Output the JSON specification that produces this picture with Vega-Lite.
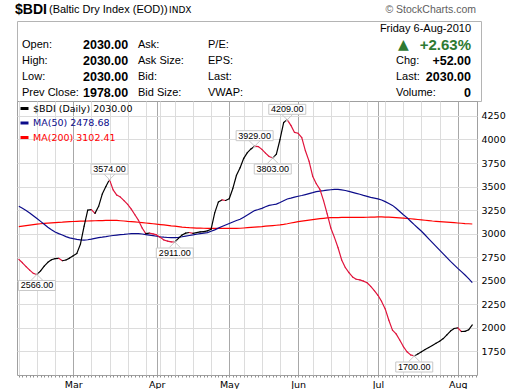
{
"$schema": "https://vega.github.io/schema/vega-lite/v6.json",
"background": "white",
"padding": {"left": 14, "top": 2, "right": 4, "bottom": 0},
"bounds": "flush",
"spacing": 0,
"resolve": {"legend": {"color": "independent"}, "scale": {"x": "independent", "y": "independent", "color": "independent"}},
"config": {"font": "Liberation Sans", "view": {"stroke": "#a0a0a0"}},
"datasets": {
"bdi": [
{"i":0,"date":"2010-02-08","close":2727,"ma50":3290,"ma200":3075},
{"i":1,"date":"2010-02-09","close":2690,"ma50":3270,"ma200":3080},
{"i":2,"date":"2010-02-10","close":2650,"ma50":3245,"ma200":3085},
{"i":3,"date":"2010-02-11","close":2612,"ma50":3220,"ma200":3090},
{"i":4,"date":"2010-02-12","close":2578,"ma50":3190,"ma200":3095},
{"i":5,"date":"2010-02-15","close":2566,"ma50":3160,"ma200":3100},
{"i":6,"date":"2010-02-16","close":2605,"ma50":3130,"ma200":3105},
{"i":7,"date":"2010-02-17","close":2655,"ma50":3100,"ma200":3108},
{"i":8,"date":"2010-02-18","close":2695,"ma50":3068,"ma200":3111},
{"i":9,"date":"2010-02-19","close":2722,"ma50":3042,"ma200":3114},
{"i":10,"date":"2010-02-22","close":2735,"ma50":3018,"ma200":3117},
{"i":11,"date":"2010-02-23","close":2738,"ma50":3000,"ma200":3120},
{"i":12,"date":"2010-02-24","close":2712,"ma50":2985,"ma200":3122},
{"i":13,"date":"2010-02-25","close":2720,"ma50":2968,"ma200":3125},
{"i":14,"date":"2010-02-26","close":2740,"ma50":2955,"ma200":3127},
{"i":15,"date":"2010-03-01","close":2765,"ma50":2946,"ma200":3129},
{"i":16,"date":"2010-03-02","close":2790,"ma50":2938,"ma200":3131},
{"i":17,"date":"2010-03-03","close":2890,"ma50":2934,"ma200":3132},
{"i":18,"date":"2010-03-04","close":3080,"ma50":2932,"ma200":3133},
{"i":19,"date":"2010-03-05","close":3250,"ma50":2935,"ma200":3134},
{"i":20,"date":"2010-03-08","close":3255,"ma50":2942,"ma200":3136},
{"i":21,"date":"2010-03-09","close":3215,"ma50":2950,"ma200":3137},
{"i":22,"date":"2010-03-10","close":3290,"ma50":2957,"ma200":3138},
{"i":23,"date":"2010-03-11","close":3420,"ma50":2962,"ma200":3139},
{"i":24,"date":"2010-03-12","close":3500,"ma50":2968,"ma200":3140},
{"i":25,"date":"2010-03-15","close":3574,"ma50":2975,"ma200":3141},
{"i":26,"date":"2010-03-16","close":3465,"ma50":2980,"ma200":3141},
{"i":27,"date":"2010-03-17","close":3410,"ma50":2985,"ma200":3140},
{"i":28,"date":"2010-03-18","close":3388,"ma50":2989,"ma200":3137},
{"i":29,"date":"2010-03-19","close":3350,"ma50":2992,"ma200":3134},
{"i":30,"date":"2010-03-22","close":3310,"ma50":2996,"ma200":3130},
{"i":31,"date":"2010-03-23","close":3260,"ma50":2999,"ma200":3127},
{"i":32,"date":"2010-03-24","close":3200,"ma50":3001,"ma200":3124},
{"i":33,"date":"2010-03-25","close":3140,"ma50":3000,"ma200":3121},
{"i":34,"date":"2010-03-26","close":3060,"ma50":2996,"ma200":3117},
{"i":35,"date":"2010-03-29","close":3000,"ma50":2990,"ma200":3113},
{"i":36,"date":"2010-03-30","close":3005,"ma50":2984,"ma200":3109},
{"i":37,"date":"2010-03-31","close":2998,"ma50":2978,"ma200":3105},
{"i":38,"date":"2010-04-01","close":2986,"ma50":2972,"ma200":3100},
{"i":39,"date":"2010-04-06","close":2960,"ma50":2966,"ma200":3096},
{"i":40,"date":"2010-04-07","close":2932,"ma50":2962,"ma200":3092},
{"i":41,"date":"2010-04-08","close":2920,"ma50":2959,"ma200":3088},
{"i":42,"date":"2010-04-09","close":2913,"ma50":2957,"ma200":3083},
{"i":43,"date":"2010-04-12","close":2911,"ma50":2957,"ma200":3079},
{"i":44,"date":"2010-04-13","close":2950,"ma50":2961,"ma200":3075},
{"i":45,"date":"2010-04-14","close":2985,"ma50":2967,"ma200":3070},
{"i":46,"date":"2010-04-15","close":3005,"ma50":2974,"ma200":3066},
{"i":47,"date":"2010-04-16","close":3012,"ma50":2980,"ma200":3063},
{"i":48,"date":"2010-04-19","close":3002,"ma50":2986,"ma200":3061},
{"i":49,"date":"2010-04-20","close":3010,"ma50":2993,"ma200":3059},
{"i":50,"date":"2010-04-21","close":3018,"ma50":2999,"ma200":3058},
{"i":51,"date":"2010-04-22","close":3022,"ma50":3005,"ma200":3057},
{"i":52,"date":"2010-04-23","close":3030,"ma50":3011,"ma200":3056},
{"i":53,"date":"2010-04-26","close":3045,"ma50":3025,"ma200":3056},
{"i":54,"date":"2010-04-27","close":3220,"ma50":3040,"ma200":3056},
{"i":55,"date":"2010-04-28","close":3335,"ma50":3058,"ma200":3055},
{"i":56,"date":"2010-04-29","close":3358,"ma50":3075,"ma200":3055},
{"i":57,"date":"2010-04-30","close":3352,"ma50":3092,"ma200":3055},
{"i":58,"date":"2010-05-04","close":3370,"ma50":3108,"ma200":3056},
{"i":59,"date":"2010-05-05","close":3480,"ma50":3124,"ma200":3056},
{"i":60,"date":"2010-05-06","close":3620,"ma50":3140,"ma200":3056},
{"i":61,"date":"2010-05-07","close":3700,"ma50":3152,"ma200":3057},
{"i":62,"date":"2010-05-10","close":3800,"ma50":3175,"ma200":3060},
{"i":63,"date":"2010-05-11","close":3860,"ma50":3198,"ma200":3063},
{"i":64,"date":"2010-05-12","close":3900,"ma50":3222,"ma200":3066},
{"i":65,"date":"2010-05-13","close":3929,"ma50":3245,"ma200":3069},
{"i":66,"date":"2010-05-14","close":3925,"ma50":3256,"ma200":3072},
{"i":67,"date":"2010-05-17","close":3895,"ma50":3268,"ma200":3075},
{"i":68,"date":"2010-05-18","close":3855,"ma50":3285,"ma200":3079},
{"i":69,"date":"2010-05-19","close":3820,"ma50":3300,"ma200":3083},
{"i":70,"date":"2010-05-20","close":3803,"ma50":3307,"ma200":3086},
{"i":71,"date":"2010-05-21","close":3845,"ma50":3313,"ma200":3089},
{"i":72,"date":"2010-05-24","close":4000,"ma50":3330,"ma200":3092},
{"i":73,"date":"2010-05-25","close":4180,"ma50":3350,"ma200":3098},
{"i":74,"date":"2010-05-26","close":4209,"ma50":3368,"ma200":3105},
{"i":75,"date":"2010-05-27","close":4150,"ma50":3377,"ma200":3113},
{"i":76,"date":"2010-05-28","close":4075,"ma50":3387,"ma200":3120},
{"i":77,"date":"2010-06-01","close":4066,"ma50":3397,"ma200":3127},
{"i":78,"date":"2010-06-02","close":4020,"ma50":3405,"ma200":3133},
{"i":79,"date":"2010-06-03","close":3880,"ma50":3415,"ma200":3139},
{"i":80,"date":"2010-06-04","close":3770,"ma50":3425,"ma200":3144},
{"i":81,"date":"2010-06-07","close":3610,"ma50":3435,"ma200":3149},
{"i":82,"date":"2010-06-08","close":3530,"ma50":3446,"ma200":3154},
{"i":83,"date":"2010-06-09","close":3470,"ma50":3451,"ma200":3159},
{"i":84,"date":"2010-06-10","close":3350,"ma50":3456,"ma200":3163},
{"i":85,"date":"2010-06-11","close":3210,"ma50":3462,"ma200":3167},
{"i":86,"date":"2010-06-14","close":3060,"ma50":3466,"ma200":3169},
{"i":87,"date":"2010-06-15","close":2960,"ma50":3470,"ma200":3170},
{"i":88,"date":"2010-06-16","close":2850,"ma50":3471,"ma200":3171},
{"i":89,"date":"2010-06-17","close":2720,"ma50":3465,"ma200":3172},
{"i":90,"date":"2010-06-18","close":2640,"ma50":3458,"ma200":3172},
{"i":91,"date":"2010-06-21","close":2585,"ma50":3448,"ma200":3173},
{"i":92,"date":"2010-06-22","close":2540,"ma50":3438,"ma200":3173},
{"i":93,"date":"2010-06-23","close":2515,"ma50":3428,"ma200":3173},
{"i":94,"date":"2010-06-24","close":2508,"ma50":3418,"ma200":3173},
{"i":95,"date":"2010-06-25","close":2495,"ma50":3406,"ma200":3173},
{"i":96,"date":"2010-06-28","close":2478,"ma50":3396,"ma200":3174},
{"i":97,"date":"2010-06-29","close":2440,"ma50":3386,"ma200":3175},
{"i":98,"date":"2010-06-30","close":2395,"ma50":3378,"ma200":3176},
{"i":99,"date":"2010-07-01","close":2345,"ma50":3369,"ma200":3177},
{"i":100,"date":"2010-07-02","close":2280,"ma50":3357,"ma200":3177},
{"i":101,"date":"2010-07-05","close":2200,"ma50":3340,"ma200":3176},
{"i":102,"date":"2010-07-06","close":2080,"ma50":3320,"ma200":3175},
{"i":103,"date":"2010-07-07","close":1975,"ma50":3300,"ma200":3173},
{"i":104,"date":"2010-07-08","close":1935,"ma50":3270,"ma200":3171},
{"i":105,"date":"2010-07-09","close":1870,"ma50":3235,"ma200":3168},
{"i":106,"date":"2010-07-12","close":1800,"ma50":3200,"ma200":3165},
{"i":107,"date":"2010-07-13","close":1745,"ma50":3170,"ma200":3162},
{"i":108,"date":"2010-07-14","close":1712,"ma50":3132,"ma200":3158},
{"i":109,"date":"2010-07-15","close":1700,"ma50":3095,"ma200":3154},
{"i":110,"date":"2010-07-16","close":1722,"ma50":3060,"ma200":3150},
{"i":111,"date":"2010-07-19","close":1745,"ma50":3025,"ma200":3146},
{"i":112,"date":"2010-07-20","close":1768,"ma50":2985,"ma200":3142},
{"i":113,"date":"2010-07-21","close":1790,"ma50":2945,"ma200":3138},
{"i":114,"date":"2010-07-22","close":1812,"ma50":2905,"ma200":3134},
{"i":115,"date":"2010-07-23","close":1835,"ma50":2865,"ma200":3131},
{"i":116,"date":"2010-07-26","close":1856,"ma50":2825,"ma200":3128},
{"i":117,"date":"2010-07-27","close":1885,"ma50":2785,"ma200":3125},
{"i":118,"date":"2010-07-28","close":1925,"ma50":2745,"ma200":3122},
{"i":119,"date":"2010-07-29","close":1965,"ma50":2705,"ma200":3119},
{"i":120,"date":"2010-07-30","close":1992,"ma50":2668,"ma200":3116},
{"i":121,"date":"2010-08-02","close":1998,"ma50":2631,"ma200":3113},
{"i":122,"date":"2010-08-03","close":1960,"ma50":2596,"ma200":3110},
{"i":123,"date":"2010-08-04","close":1962,"ma50":2560,"ma200":3107},
{"i":124,"date":"2010-08-05","close":1978,"ma50":2522,"ma200":3105},
{"i":125,"date":"2010-08-06","close":2030,"ma50":2478.68,"ma200":3102.41}
],
"hdr_lab": [
{"t":"Open:","row":1,"col":0},{"t":"High:","row":2,"col":0},{"t":"Low:","row":3,"col":0},{"t":"Prev Close:","row":4,"col":0},
{"t":"Ask:","row":1,"col":2},{"t":"Ask Size:","row":2,"col":2},{"t":"Bid:","row":3,"col":2},{"t":"Bid Size:","row":4,"col":2},
{"t":"P/E:","row":1,"col":3},{"t":"EPS:","row":2,"col":3},{"t":"Last:","row":3,"col":3},{"t":"VWAP:","row":4,"col":3},
{"t":"Chg:","row":2,"col":4},{"t":"Last:","row":3,"col":4},{"t":"Volume:","row":4,"col":4}
],
"hdr_val": [
{"t":"2030.00","row":1,"col":1},{"t":"2030.00","row":2,"col":1},{"t":"2030.00","row":3,"col":1},{"t":"1978.00","row":4,"col":1}
],
"hdr_rval": [
{"t":"+52.00","row":2,"col":5},{"t":"2030.00","row":3,"col":5},{"t":"0","row":4,"col":5}
],
"hdr_date": [{"t":"Friday  6-Aug-2010","row":0,"col":5}],
"hdr_pct": [{"t":"+2.63%","row":1,"col":5}],
"hdr_tri": [{"t":"▲","row":1,"col":4}],
"hdr_sym": [{"t":"$BDI","row":-1.19,"col":-1}],
"hdr_name": [{"t":"(Baltic Dry Index (EOD))","row":-1.19,"col":-1}],
"hdr_exch": [{"t":"INDX","row":-1.19,"col":-1}],
"hdr_copy": [{"t":"© StockCharts.com","row":-1.19,"col":6}]
},
"vconcat": [
{
"width": 464,
"height": 80,
"view": {"stroke": "#b4b4b4"},
"encoding": {
"x": {"field": "col", "type": "quantitative", "axis": null, "scale": {"type": "linear", "domain": [-1,0,1,2,3,4,5,6], "range": [-2,5,66,121,191,379,454,459], "zero": false, "nice": false}},
"y": {"field": "row", "type": "quantitative", "axis": null, "scale": {"domain": [-0.5, 4.5], "reverse": true, "zero": false, "nice": false}}
},
"layer": [
{"data": {"name": "hdr_lab"}, "mark": {"type": "text", "align": "left", "baseline": "middle", "fontSize": 11, "color": "#000000"}, "encoding": {"text": {"field": "t"}}},
{"data": {"name": "hdr_val"}, "mark": {"type": "text", "align": "left", "baseline": "middle", "fontSize": 12.5, "fontWeight": "bold", "color": "#000000"}, "encoding": {"text": {"field": "t"}}},
{"data": {"name": "hdr_rval"}, "mark": {"type": "text", "align": "right", "baseline": "middle", "fontSize": 12.5, "fontWeight": "bold", "color": "#000000"}, "encoding": {"text": {"field": "t"}}},
{"data": {"name": "hdr_date"}, "mark": {"type": "text", "align": "right", "baseline": "middle", "fontSize": 11, "color": "#000000"}, "encoding": {"text": {"field": "t"}}},
{"data": {"name": "hdr_pct"}, "mark": {"type": "text", "align": "right", "baseline": "middle", "fontSize": 15, "fontWeight": "bold", "color": "#2e7a32"}, "encoding": {"text": {"field": "t"}}},
{"data": {"name": "hdr_tri"}, "mark": {"type": "text", "align": "left", "baseline": "middle", "font": "DejaVu Sans", "fontSize": 14, "dx": 2, "color": "#2e7a32"}, "encoding": {"text": {"field": "t"}}},
{"data": {"name": "hdr_sym"}, "mark": {"type": "text", "align": "left", "baseline": "middle", "fontSize": 14, "fontWeight": "bold", "color": "#000000"}, "encoding": {"text": {"field": "t"}}},
{"data": {"name": "hdr_name"}, "mark": {"type": "text", "align": "left", "baseline": "middle", "fontSize": 11, "dx": 34, "color": "#000000"}, "encoding": {"text": {"field": "t"}}},
{"data": {"name": "hdr_exch"}, "mark": {"type": "text", "align": "left", "baseline": "middle", "font": "DejaVu Sans", "fontSize": 9, "dx": 154, "color": "#000000"}, "encoding": {"text": {"field": "t"}}},
{"data": {"name": "hdr_copy"}, "mark": {"type": "text", "align": "right", "baseline": "middle", "fontSize": 10.5, "color": "#606060"}, "encoding": {"text": {"field": "t"}}}
]
},
{
"width": 460,
"height": 274,
"view": {"stroke": "#a0a0a0"},
"data": {"name": "bdi"},
"resolve": {"axis": {"x": "independent"}},
"layer": [
{
"transform": [
{"fold": ["ma200", "ma50"], "as": ["key", "value"]},
{"calculate": "datum.key == 'ma50' ? 'MA(50) 2478.68' : 'MA(200) 3102.41'", "as": "series"}
],
"mark": {"type": "line", "strokeWidth": 1.2},
"encoding": {
"x": {"field": "i", "type": "quantitative", "scale": {"domain": [-0.5, 126.3], "zero": false, "nice": false},
"axis": {"orient": "bottom", "title": null, "values": [0,5,10,15,20,25,30,35,38,39,43,48,53,58,62,67,72,77,81,86,91,96,99,101,106,111,116,121], "tickCount": 200,
"grid": true, "gridColor": {"condition": {"test": "indexof([15,38,58,77,99,121], datum.value) >= 0", "value": "#a8a8a8"}, "value": "#dcdcdc"},
"ticks": false, "domain": false, "labelFont": "DejaVu Sans", "labelFontSize": 9.5, "labelColor": "#000000", "labelPadding": 4,
"labelOverlap": false, "labelFlush": false, "labelBound": false,
"labelExpr": "datum.value == 15 ? 'Mar' : datum.value == 38 ? 'Apr' : datum.value == 58 ? 'May' : datum.value == 77 ? 'Jun' : datum.value == 99 ? 'Jul' : datum.value == 121 ? 'Aug' : ''"}},
"y": {"field": "value", "type": "quantitative", "scale": {"domain": [1498, 4409], "zero": false, "nice": false},
"axis": {"orient": "right", "title": null, "values": [1750,2000,2250,2500,2750,3000,3250,3500,3750,4000,4250], "tickCount": 50, "format": "d", "grid": true, "gridColor": "#dcdcdc",
"ticks": false, "domain": false, "labelFont": "DejaVu Sans", "labelFontSize": 9.5, "labelColor": "#000000", "labelPadding": 4, "labelOverlap": false, "labelFlush": false, "labelBound": false}},
"color": {"field": "series", "type": "nominal",
"scale": {"domain": ["$BDI (Daily) 2030.00", "MA(50) 2478.68", "MA(200) 3102.41", "down"], "range": ["#000000", "#0c0c8a", "#ff0000", "#e0143c"]},
"legend": {"values": ["$BDI (Daily) 2030.00", "MA(50) 2478.68", "MA(200) 3102.41"], "title": null, "orient": "top-left", "offset": 2, "padding": 0,
"symbolType": "stroke", "symbolSize": 64, "symbolStrokeWidth": 3, "labelFont": "DejaVu Sans", "labelFontSize": 9.5, "labelOffset": 3, "rowPadding": 1.5,
"labelColor": {"expr": "datum.label == 'MA(50) 2478.68' ? '#0c0c8a' : datum.label == 'MA(200) 3102.41' ? '#ff0000' : '#000000'"}}}
}
},
{
"transform": [
{"window": [{"op": "lead", "field": "close", "as": "close2"}, {"op": "lead", "field": "i", "as": "i2"}], "sort": [{"field": "i"}]},
{"filter": "isValid(datum.close2)"},
{"calculate": "datum.close2 >= datum.close ? '$BDI (Daily) 2030.00' : 'down'", "as": "dir"}
],
"mark": {"type": "rule", "strokeWidth": 1.2, "strokeCap": "round"},
"encoding": {
"x": {"field": "i", "type": "quantitative", "axis": {"orient": "bottom", "title": null, "grid": false, "labels": false, "domain": false, "tickCount": 127, "tickSize": 2, "tickColor": "#909090"}},
"x2": {"field": "i2"},
"y": {"field": "close", "type": "quantitative"},
"y2": {"field": "close2"},
"color": {"field": "dir", "type": "nominal"}
}
},
{
"transform": [{"filter": {"field": "i", "oneOf": [25, 65, 74]}}],
"mark": {"type": "point", "shape": "M-0.55,-0.55L0.15,0.15M0.55,-0.55L-0.15,0.15", "size": 400, "filled": false, "color": "#c8c8c8", "strokeWidth": 1, "opacity": 1},
"encoding": {"x": {"field": "i", "type": "quantitative", "axis": null}, "y": {"field": "close", "type": "quantitative"}}
},
{
"transform": [{"filter": {"field": "i", "oneOf": [25, 65, 74]}}],
"mark": {"type": "point", "shape": "M-1.85,-1.55H1.85V-0.55H-1.85Z", "size": 400, "filled": true, "fill": "#ffffff", "stroke": "#c8c8c8", "strokeWidth": 1, "opacity": 1},
"encoding": {"x": {"field": "i", "type": "quantitative", "axis": null}, "y": {"field": "close", "type": "quantitative"}}
},
{
"transform": [{"filter": {"field": "i", "oneOf": [25, 65, 74]}}],
"mark": {"type": "text", "fontSize": 9, "dy": -10.5, "baseline": "middle", "align": "center", "color": "#000000"},
"encoding": {"x": {"field": "i", "type": "quantitative", "axis": null}, "y": {"field": "close", "type": "quantitative"}, "text": {"field": "close", "type": "quantitative", "format": ".2f"}}
},
{
"transform": [{"filter": {"field": "i", "oneOf": [5, 43, 70, 109]}}],
"mark": {"type": "point", "shape": "M-0.55,0.55L0.15,-0.15M0.55,0.55L-0.15,-0.15", "size": 400, "filled": false, "color": "#c8c8c8", "strokeWidth": 1, "opacity": 1},
"encoding": {"x": {"field": "i", "type": "quantitative", "axis": null}, "y": {"field": "close", "type": "quantitative"}}
},
{
"transform": [{"filter": {"field": "i", "oneOf": [5, 43, 70, 109]}}],
"mark": {"type": "point", "shape": "M-1.85,0.6H1.85V1.6H-1.85Z", "size": 400, "filled": true, "fill": "#ffffff", "stroke": "#c8c8c8", "strokeWidth": 1, "opacity": 1},
"encoding": {"x": {"field": "i", "type": "quantitative", "axis": null}, "y": {"field": "close", "type": "quantitative"}}
},
{
"transform": [{"filter": {"field": "i", "oneOf": [5, 43, 70, 109]}}],
"mark": {"type": "text", "fontSize": 9, "dy": 11, "baseline": "middle", "align": "center", "color": "#000000"},
"encoding": {"x": {"field": "i", "type": "quantitative", "axis": null}, "y": {"field": "close", "type": "quantitative"}, "text": {"field": "close", "type": "quantitative", "format": ".2f"}}
}
]
}
]
}
